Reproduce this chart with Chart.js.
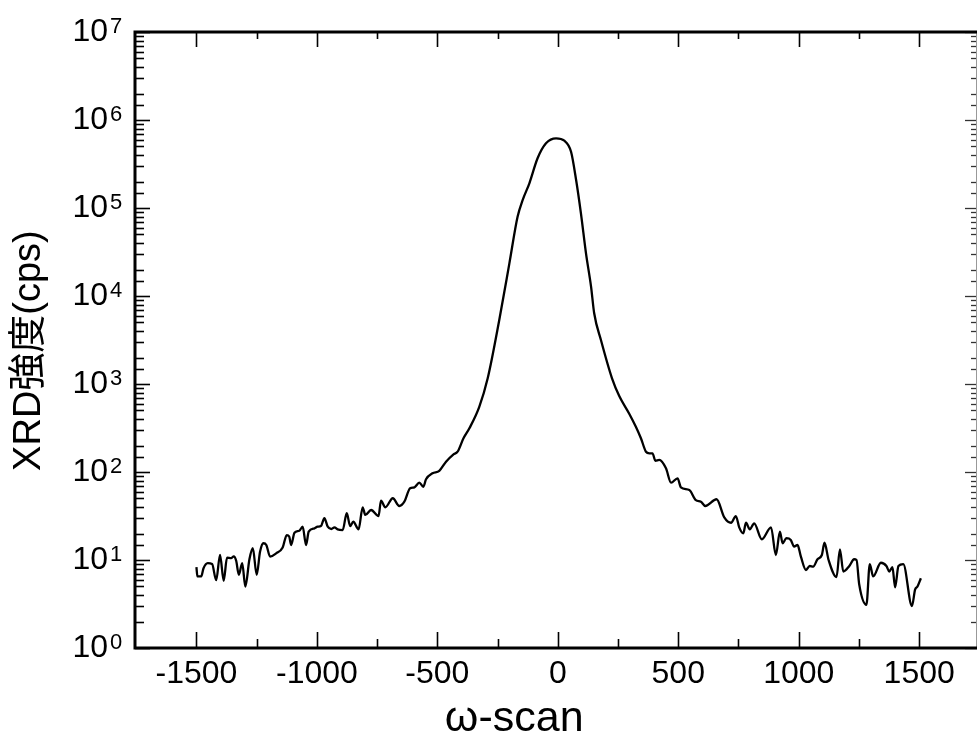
<!DOCTYPE html>
<html>
<head>
<meta charset="utf-8">
<script src="https://cdn.jsdelivr.net/npm/chart.js@4/dist/chart.umd.min.js"></script>
<style>html,body{margin:0;padding:0;background:#fff;}canvas{display:block;}</style>
</head>
<body>
<canvas id="c" width="980" height="742" style="width:980px;height:742px"></canvas>
<script>
// ω-scan position (arcsec) and XRD intensity (cps)
const omega = [
  -1500, -1496, -1480, -1471, -1453, -1435, -1418, -1402, -1387, -1373,
  -1356, -1345, -1335, -1324, -1310, -1297, -1280, -1266, -1250, -1236,
  -1222, -1210, -1194, -1169, -1142, -1125, -1115, -1107, -1093, -1073,
  -1059, -1045, -1034, -1010, -997, -983, -969, -955, -940, -927,
  -914, -893, -876, -862, -849, -827, -810, -799, -775, -744,
  -734, -716, -685, -658, -637, -613, -595, -575, -558, -547,
  -520, -492, -464, -434, -416, -392, -367, -326, -291, -243,
  -201, -167, -146, -118, -84, -49, -7, 27, 55, 76,
  96, 117, 138, 151, 179, 225, 255, 297, 324, 345,
  366, 380, 393, 405, 421, 449, 470, 497, 511, 546,
  573, 594, 612, 659, 691, 719, 739, 753, 770, 781,
  797, 815, 847, 885, 905, 922, 933, 949, 967, 981,
  995, 1009, 1030, 1046, 1060, 1078, 1096, 1107, 1124, 1157,
  1171, 1185, 1210, 1230, 1240, 1251, 1281, 1295, 1309, 1341,
  1364, 1376, 1389, 1400, 1414, 1434, 1470, 1483, 1493, 1507
];
const intensity = [
  8.3, 6.5, 6.5, 8.0, 9.2, 9.0, 5.9, 11.4, 5.8, 10.6,
  10.5, 11.0, 9.8, 6.8, 9.2, 5.0, 10.2, 13.6, 6.8, 12.4,
  15.5, 14.8, 10.9, 11.9, 13.9, 19.2, 18.5, 14.8, 20.4, 21.5,
  23.9, 14.8, 21.0, 22.9, 23.9, 24.3, 29.8, 23.9, 22.5, 23.5,
  22.3, 21.9, 34.0, 24.3, 27.2, 22.3, 39.7, 32.5, 37.0, 31.6,
  47.2, 39.7, 50.3, 41.1, 46.0, 65.3, 67.0, 75.6, 68.0, 82.6,
  96.7, 103, 131, 158, 170, 240, 314, 550, 1160, 5330,
  23500, 79600, 123000, 191000, 367000, 543000, 618000, 582000, 436000, 208000,
  87000, 30500, 12800, 6360, 3160, 1160, 730, 457, 327, 242,
  170, 163, 163, 134, 137, 110, 75.6, 84.8, 67.0, 62.4,
  47.9, 46.0, 41.1, 49.0, 30.5, 26.5, 31.6, 23.5, 20.1, 26.5,
  22.3, 26.1, 17.2, 23.5, 11.4, 21.0, 15.5, 17.7, 16.9, 14.2,
  14.8, 10.9, 7.7, 8.55, 8.4, 10.2, 11.4, 15.7, 10.0, 6.4,
  13.2, 7.4, 8.55, 10.2, 10.0, 5.3, 3.1, 9.0, 6.5, 9.3,
  8.55, 7.4, 8.3, 4.9, 8.55, 9.0, 3.0, 4.6, 5.0, 6.2
];
const xTickLabels = [-1500, -1000, -500, 0, 500, 1000, 1500];
const xMinorTicks = [-1250, -750, -250, 250, 750, 1250];
const yExponents = [0, 1, 2, 3, 4, 5, 6, 7];
const xTitle = 'ω-scan';
const yTitle = 'XRD強度(cps)';

const points = omega.map((w, i) => ({ x: w, y: intensity[i] }));
const FONT = '"Liberation Sans", Arial, "Noto Sans CJK JP", sans-serif';

const isDecade = v => {
  const e = Math.log10(v);
  return Math.abs(e - Math.round(e)) < 1e-9;
};

const framePlugin = {
  id: 'frame',
  afterDraw(chart) {
    const { ctx, chartArea: a, scales: { x, y } } = chart;
    ctx.save();
    ctx.lineCap = 'butt';
    // x ticks (inward, bottom and top)
    x.ticks.forEach(t => {
      const v = t.value;
      const major = xTickLabels.includes(v);
      const px = Math.round(x.getPixelForValue(v)) + 0.5;
      ctx.strokeStyle = '#000';
      ctx.lineWidth = 1.6;
      ctx.beginPath();
      ctx.moveTo(px, a.bottom);
      ctx.lineTo(px, a.bottom - (major ? 16 : 9));
      ctx.moveTo(px, a.top);
      ctx.lineTo(px, a.top + (major ? 15 : 7));
      ctx.stroke();
    });
    // y ticks (inward, left and right) + exponents of the decade labels
    y.ticks.forEach(t => {
      const v = t.value;
      const major = isDecade(v);
      const py = Math.round(y.getPixelForValue(v)) + 0.5;
      ctx.strokeStyle = '#000';
      ctx.lineWidth = 1.6;
      ctx.beginPath();
      ctx.moveTo(a.left, py);
      ctx.lineTo(a.left + (major ? 15 : 9), py);
      ctx.stroke();
      ctx.strokeStyle = '#333';
      ctx.lineWidth = 1.3;
      ctx.beginPath();
      ctx.moveTo(a.right, py);
      ctx.lineTo(a.right - (major ? 12 : 6), py);
      ctx.stroke();
      if (major) {
        const e = Math.round(Math.log10(v));
        if (yExponents.includes(e)) {
          ctx.fillStyle = '#000';
          ctx.font = '22px ' + FONT;
          ctx.textAlign = 'left';
          ctx.textBaseline = 'alphabetic';
          ctx.fillText(String(e), a.left - 25, py + 0.5);
        }
      }
    });
    // frame
    ctx.strokeStyle = '#999';
    ctx.lineWidth = 1;
    ctx.beginPath();
    ctx.moveTo(a.right - 0.5, a.top);
    ctx.lineTo(a.right - 0.5, a.bottom);
    ctx.stroke();
    ctx.strokeStyle = '#000';
    ctx.lineWidth = 3;
    ctx.beginPath();
    ctx.moveTo(a.left, a.top);
    ctx.lineTo(a.left, a.bottom);
    ctx.moveTo(a.left - 1.5, a.bottom);
    ctx.lineTo(a.right, a.bottom);
    ctx.moveTo(a.left - 1.5, a.top);
    ctx.lineTo(a.right, a.top);
    ctx.stroke();
    ctx.restore();
  }
};

new Chart(document.getElementById('c'), {
  type: 'line',
  data: {
    datasets: [{
      data: points,
      borderColor: '#000',
      borderWidth: 2.3,
      pointRadius: 0,
      fill: false,
      cubicInterpolationMode: 'monotone'
    }]
  },
  options: {
    responsive: false,
    animation: false,
    layout: { padding: { top: 32, right: 3, left: 0, bottom: 0 } },
    plugins: { legend: { display: false }, tooltip: { enabled: false } },
    scales: {
      x: {
        type: 'linear',
        min: -1755,
        max: 1740,
        grid: { display: false, drawTicks: false },
        border: { display: false },
        afterBuildTicks: s => {
          s.ticks = xTickLabels.concat(xMinorTicks).sort((p, q) => p - q).map(v => ({ value: v }));
        },
        ticks: {
          autoSkip: false,
          maxRotation: 0,
          padding: 7,
          color: '#000',
          font: { family: FONT, size: 32 },
          callback: v => (xTickLabels.includes(v) ? String(v) : '')
        },
        title: {
          display: true,
          text: xTitle + '       ',
          color: '#000',
          font: { family: FONT, size: 43, lineHeight: 1.05 },
          padding: { top: 0, bottom: 0 }
        },
        afterFit: s => { s.height = 94; s.paddingLeft = 0; s.paddingRight = 0; }
      },
      y: {
        type: 'logarithmic',
        min: 1,
        max: 1e7,
        grid: { display: false, drawTicks: false },
        border: { display: false },
        ticks: {
          autoSkip: false,
          padding: 27,
          color: '#000',
          font: { family: FONT, size: 32 },
          callback: v => (isDecade(v) && yExponents.includes(Math.round(Math.log10(v))) ? '10' : '')
        },
        title: {
          display: true,
          text: yTitle + '  ',
          color: '#000',
          font: { family: FONT, size: 38 },
          padding: { top: 7, bottom: 0 }
        },
        afterFit: s => { s.width = 135; s.paddingTop = 0; s.paddingBottom = 0; }
      }
    }
  },
  plugins: [framePlugin]
});
</script>
</body>
</html>
